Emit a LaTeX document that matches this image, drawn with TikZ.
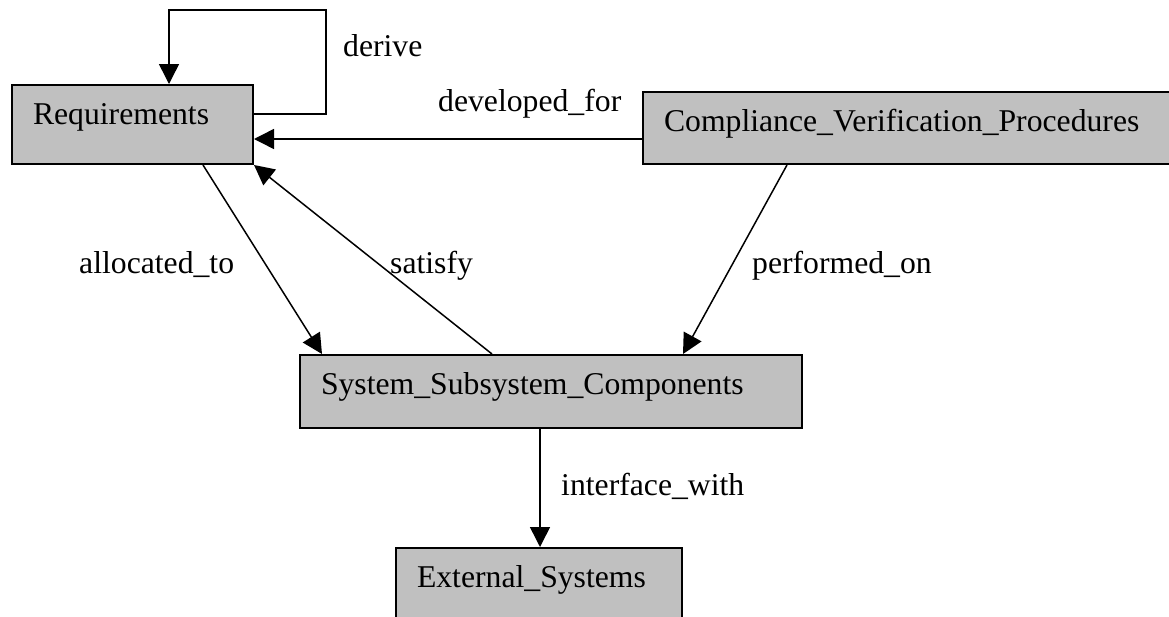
\documentclass[tikz,border=0pt]{standalone}
\usepackage{fontspec}
\setmainfont{Liberation Serif}
\usetikzlibrary{arrows.meta}
\definecolor{boxgray}{HTML}{C0C0C0}
\tikzset{
  entity/.style={draw=black, fill=boxgray, line width=2pt, anchor=north west,
    inner xsep=21pt, inner ysep=0pt, text height=39pt, align=left,
    font=\fontsize{31.7}{38}\selectfont},
  rel/.style={draw=black, line width=1.5pt, -{Triangle[length=20pt,width=20pt]}},
  lbl/.style={anchor=base west, inner sep=0pt, font=\fontsize{31.7}{38}\selectfont}
}
\begin{document}
\begin{tikzpicture}[x=1pt, y=-1pt]
\clip (0,0) rectangle (1169,616);
\fill[white] (0,0) rectangle (1169,616);
% nodes
\node[entity, text width=199pt, text depth=40pt] (req) at (11,84) {Requirements};
\node[entity, text width=508pt, text depth=33pt] (cvp) at (642,91) {Compliance\_Verification\_Procedures};
\node[entity, text width=460pt, text depth=34pt] (ssc) at (299,354) {System\_Subsystem\_Components};
\node[entity, text width=244pt, text depth=40pt] (ext) at (395,547) {External\_Systems};
% connectors
\coordinate (d1) at (326,114);
\coordinate (d2) at (326,10);
\coordinate (d3) at (169,10);
\draw[rel] (req.east |- 0,114) -- (d1) -- (d2) -- (d3) -- (req.north -| 169,0);
\draw[rel] (cvp.west |- 0,139) -- (req.east |- 0,139);
\draw[rel] (req.south -| 203,0) -- (ssc.north -| 322,0);
\draw[rel] (ssc.north -| 492,0) -- (req.south east);
\draw[rel] (cvp.south -| 787,0) -- (ssc.north -| 683,0);
\draw[rel] (ssc.south -| 540,0) -- (ext.north -| 540,0);
% labels
\node[lbl] (lderive) at (343,56) {derive};
\node[lbl] (ldev) at (438,111) {developed\_for};
\node[lbl] (lalloc) at (79,273) {allocated\_to};
\node[lbl] (lsat) at (390,273) {satisfy};
\node[lbl] (lperf) at (752,273) {performed\_on};
\node[lbl] (lint) at (561,495) {interface\_with};
\end{tikzpicture}
\end{document}
